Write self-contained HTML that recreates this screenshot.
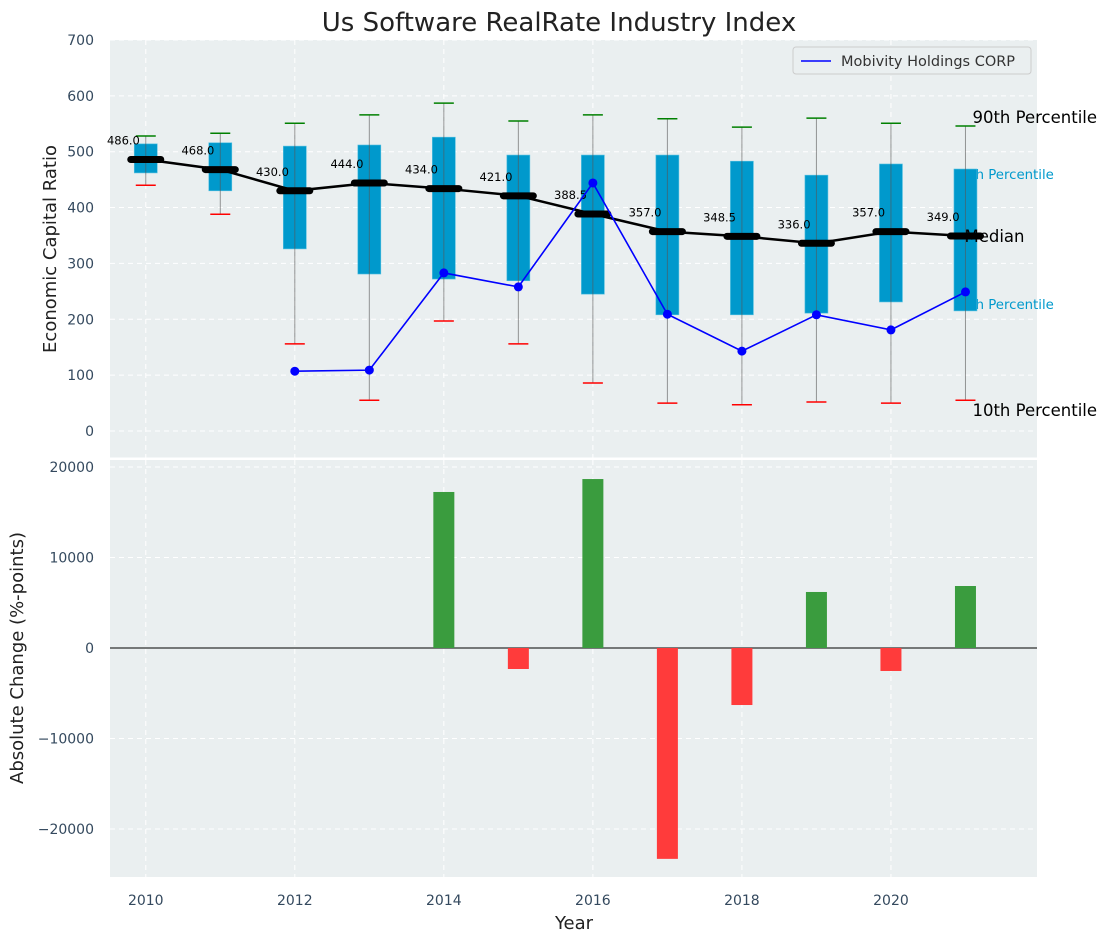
<!DOCTYPE html>
<html><head><meta charset="utf-8"><style>
body{margin:0;background:#fff;}
svg text{font-family:"DejaVu Sans","Liberation Sans",sans-serif;}
</style></head><body>
<svg id="c" width="1107" height="942" xmlns="http://www.w3.org/2000/svg"></svg>
<script>
const years=[2010,2011,2012,2013,2014,2015,2016,2017,2018,2019,2020,2021];
const p90=[528,533,551,566,587,555,566,559,544,560,551,546];
const q3=[514,516,510,512,526,494,494,494,483,458,478,469];
const medians=[486,468,430,444,434,421,388.5,357,348.5,336,357,349];
const q1=[462,430,326,281,272,269,245,208,208,211,231,215];
const p10=[440,388,156,55,197,156,86,50,47,52,50,55];
const companyYears=[2012,2013,2014,2015,2016,2017,2018,2019,2020,2021];
const companyVals=[107,109,283,258,444,209,143,208,181,249];
const changeYears=[2014,2015,2016,2017,2018,2019,2020,2021];
const changeVals=[17240,-2320,18670,-23300,-6300,6190,-2540,6850];
const yTicksTop=[0,100,200,300,400,500,600,700];
const yTicksBot=[-20000,-10000,0,10000,20000];
const xTicks=[2010,2012,2014,2016,2018,2020];

const NS="http://www.w3.org/2000/svg";
const svg=document.getElementById('c');
function el(t,a,parent){const e=document.createElementNS(NS,t);for(const k in a)e.setAttribute(k,a[k]);(parent||svg).appendChild(e);return e;}
const L=110,R=1037;
const x=v=>L+(v-2009.52)/(2021.96-2009.52)*(R-L);
const yT=v=>431-v*0.5586;
const yB=v=>648-v*0.00905;
const axisC="#34495e";

let t=el('text',{x:559,y:31,'text-anchor':'middle','font-size':26,fill:'#222'});t.textContent='Us Software RealRate Industry Index';


let bg=el('rect',{x:L,y:40,width:R-L,height:417.5,fill:'#eaeff0'});

let bg2=el('rect',{x:L,y:460,width:R-L,height:417,fill:'#eaeff0'});


xTicks.forEach(v=>{
  el('line',{x1:x(v),x2:x(v),y1:40,y2:457.5,stroke:'#fff','stroke-dasharray':'5,4','stroke-width':1});
  el('line',{x1:x(v),x2:x(v),y1:460,y2:877,stroke:'#fff','stroke-dasharray':'5,4','stroke-width':1});
  let tx=el('text',{x:x(v),y:905,'text-anchor':'middle','font-size':14,fill:axisC});tx.textContent=v;
  
});
yTicksTop.forEach(v=>{
  el('line',{x1:L,x2:R,y1:yT(v),y2:yT(v),stroke:'#fff','stroke-dasharray':'5,4','stroke-width':1});
  let tx=el('text',{x:94,y:yT(v)+5,'text-anchor':'end','font-size':14,fill:axisC});tx.textContent=v;
  
});
yTicksBot.forEach(v=>{
  el('line',{x1:L,x2:R,y1:yB(v),y2:yB(v),stroke:'#fff','stroke-dasharray':'5,4','stroke-width':1});
  let tx=el('text',{x:94,y:yB(v)+5,'text-anchor':'end','font-size':14,fill:axisC});tx.textContent=(v<0?'\u2212'+(-v):v);
  
});

const lastX=x(2021);
[['90th Percentile',123,'#000',16.5,lastX+7],['10th Percentile',416,'#000',16.5,lastX+7],['75th Percentile',179,'#0099cc',13.3,lastX-12],['25th Percentile',309,'#0099cc',13.3,lastX-12]].forEach(a=>{
  let tx=el('text',{x:a[4],y:a[1],'font-size':a[3],fill:a[2]});tx.textContent=a[0];
  
});

years.forEach((yr,i)=>{
  const cx=x(yr);
  let b=el('rect',{x:cx-11.5,y:yT(q3[i]),width:23,height:yT(q1[i])-yT(q3[i]),fill:'#0099cc',stroke:'#55c0e0','stroke-width':0.6});
  
  let w=el('line',{x1:cx,x2:cx,y1:yT(p90[i]),y2:yT(p10[i]),stroke:'#555','stroke-width':1,'stroke-opacity':0.6});
  
  let c1=el('line',{x1:cx-10,x2:cx+10,y1:yT(p90[i]),y2:yT(p90[i]),stroke:'green','stroke-width':1.5});
  
  let c2=el('line',{x1:cx-10,x2:cx+10,y1:yT(p10[i]),y2:yT(p10[i]),stroke:'red','stroke-width':1.5});
  
});
let mp=el('polyline',{points:years.map((yr,i)=>x(yr)+','+yT(medians[i])).join(' '),fill:'none',stroke:'#000','stroke-width':2.5});

years.forEach((yr,i)=>{
  const cx=x(yr),cy=yT(medians[i]);
  let m=el('line',{x1:cx-15,x2:cx+15,y1:cy,y2:cy,stroke:'#000','stroke-width':7,'stroke-linecap':'round'});
  
  let tx=el('text',{x:x(yr-0.3),y:cy-15,'text-anchor':'middle','font-size':11.5,fill:'#000'});tx.textContent=medians[i].toFixed(1);
  
});
let mtx=el('text',{x:lastX-1,y:yT(349)+6,'font-size':16.5,fill:'#000'});mtx.textContent='Median';


let cl=el('polyline',{points:companyYears.map((yr,i)=>x(yr)+','+yT(companyVals[i])).join(' '),fill:'none',stroke:'#0000ff','stroke-width':1.6});

companyYears.forEach((yr,i)=>{
  let d=el('circle',{cx:x(yr),cy:yT(companyVals[i]),r:4.5,fill:'#0000ff'});
  
});

let lg=el('g',{});
el('rect',{x:793,y:47,width:238,height:27,rx:3,fill:'#eaeff0',stroke:'#ccc'},lg);
el('line',{x1:801,x2:831,y1:61,y2:61,stroke:'#0000ff','stroke-width':1.6},lg);
let lt=el('text',{x:841,y:66,'font-size':14.5,fill:'#333'},lg);lt.textContent='Mobivity Holdings CORP';

el('line',{x1:L,x2:R,y1:yB(0),y2:yB(0),stroke:'#000','stroke-width':1});
changeYears.forEach((yr,i)=>{
  const v=changeVals[i];
  const y0=yB(Math.max(v,0)),y1=yB(Math.min(v,0));
  let b=el('rect',{x:x(yr)-10.5,y:y0,width:21,height:y1-y0,fill:v>=0?'#3a9c3e':'#ff3b3b'});
  
});

let a1=el('text',{x:0,y:0,'font-size':18,fill:'#222','text-anchor':'middle',transform:'translate(56,249) rotate(-90)'});a1.textContent='Economic Capital Ratio';

let a2=el('text',{x:0,y:0,'font-size':18,fill:'#222','text-anchor':'middle',transform:'translate(23,658) rotate(-90)'});a2.textContent='Absolute Change (%-points)';

let a3=el('text',{x:574,y:929,'font-size':18,fill:'#222','text-anchor':'middle'});a3.textContent='Year';

</script>
</body></html>
